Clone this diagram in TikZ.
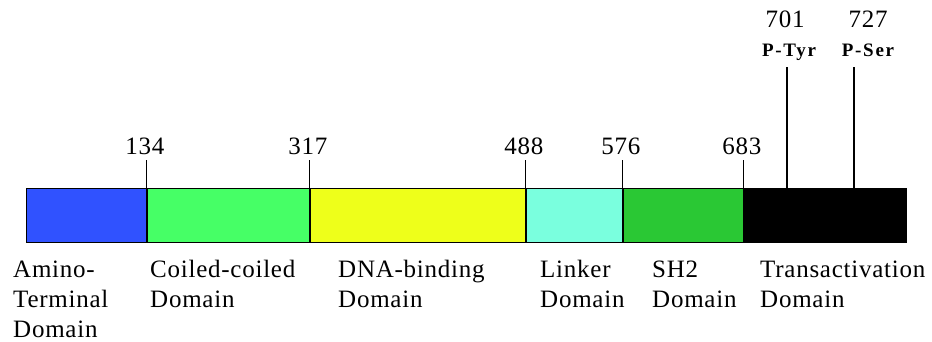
\documentclass[tikz,border=0pt]{standalone}
\usepackage{fontspec}
\setmainfont{Liberation Serif}[LetterSpace=3]
\newfontfamily\sitefont{Liberation Serif}[LetterSpace=9]
\definecolor{ntdblue}{RGB}{48,82,255}
\definecolor{ccgreen}{RGB}{70,255,102}
\definecolor{dnayellow}{RGB}{238,255,26}
\definecolor{linkcyan}{RGB}{122,255,222}
\definecolor{shgreen}{RGB}{42,200,52}
\tikzset{
  seg/.style={draw=black, line width=0.8pt, inner sep=0pt, minimum height=54pt, anchor=north west},
  sep/.style={line width=2.6pt},
  tick/.style={line width=1.3pt},
  num/.style={font=\fontsize{25}{25}\selectfont, anchor=base, inner sep=0pt},
  mod/.style={font=\sitefont\fontsize{19}{19}\selectfont\bfseries, anchor=base, inner sep=0pt},
  dom/.style={font=\fontsize{25}{30}\selectfont, anchor=base west, inner sep=0pt, align=left}
}
\begin{document}
\begin{tikzpicture}[x=1pt,y=-1pt]
\useasboundingbox[fill=white] (0,0) rectangle (932,342);
% domain segments along the bar
\node[seg, fill=ntdblue,   minimum width=120pt] (ntd)  at (26,188) {};
\node[seg, fill=ccgreen,   minimum width=163pt] (cc)   at (146,188) {};
\node[seg, fill=dnayellow, minimum width=216pt] (dbd)  at (309,188) {};
\node[seg, fill=linkcyan,  minimum width=97pt]  (lnk)  at (525,188) {};
\node[seg, fill=shgreen,   minimum width=121pt] (sh2)  at (622,188) {};
\node[seg, fill=black,     minimum width=163pt] (tad)  at (743,188) {};
% boundaries between domains
\foreach \a/\b in {ntd/cc, cc/dbd, dbd/lnk, lnk/sh2, sh2/tad}
  \draw[sep] (\a.north east) -- (\a.south east);
% residue numbers at the boundaries
\foreach \d/\n in {ntd/134, cc/317, dbd/488, lnk/576, sh2/683}{
  \coordinate (t\n) at ([yshift=28pt]\d.north east);
  \draw[tick] (\d.north east) -- (t\n);
  \node[num] (l\n) at ([xshift=-2pt,yshift=5pt]t\n) {\n};
}
% phosphorylation sites
\coordinate (s701) at (787,188);
\coordinate (s727) at (854,188);
\coordinate (p701) at (787,67);
\coordinate (p727) at (854,67);
\draw[tick] (s701) -- (p701);
\draw[tick] (s727) -- (p727);
\node[mod] (m701) at (789,57) {P-Tyr};
\node[mod] (m727) at (868,57) {P-Ser};
\node[num] (n701) at (785,28) {701};
\node[num] (n727) at (868,28) {727};
% domain names (anchored at the baseline of the last line)
\node[dom] (dn1) at (13,337)  {Amino-\\Terminal\\Domain};
\node[dom] (dn2) at (150,307) {Coiled-coiled\\Domain};
\node[dom] (dn3) at (338,307) {DNA-binding\\Domain};
\node[dom] (dn4) at (540,307) {Linker\\Domain};
\node[dom] (dn5) at (652,307) {SH2\\Domain};
\node[dom] (dn6) at (760,307) {Transactivation\\Domain};
\end{tikzpicture}
\end{document}
